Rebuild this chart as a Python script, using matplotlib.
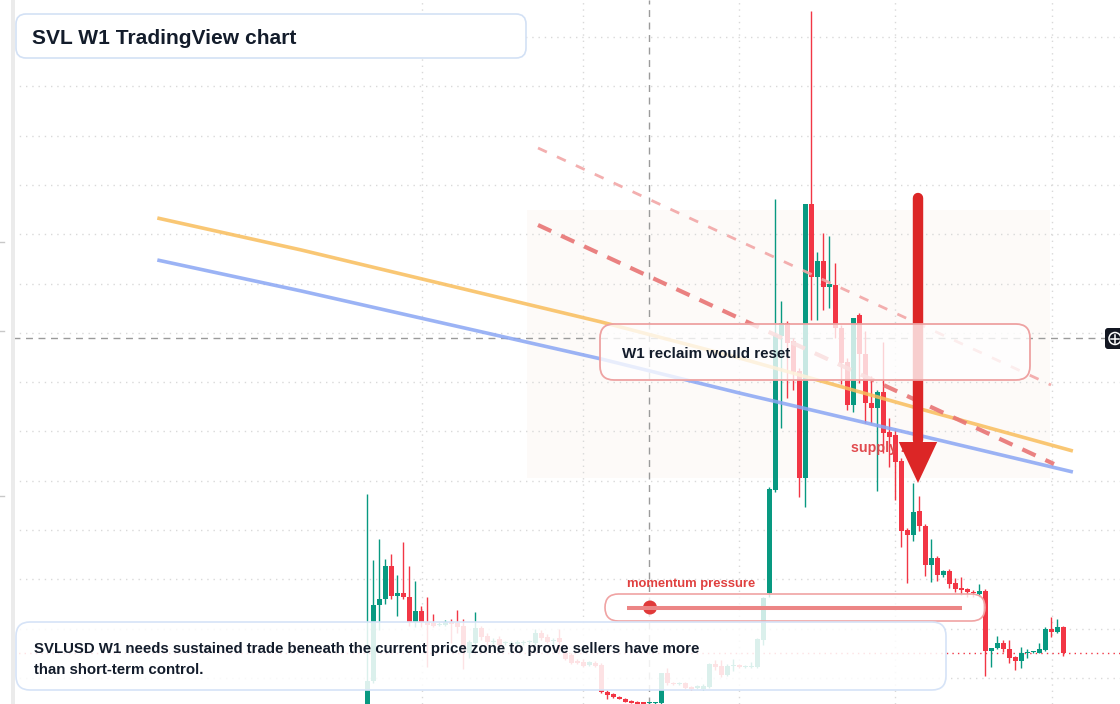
import matplotlib
matplotlib.use("Agg")
import numpy as np
from matplotlib import pyplot as plt
from matplotlib.patches import FancyBboxPatch, Rectangle, Circle, Polygon

plt.rcParams['font.family'] = ['Liberation Sans', 'DejaVu Sans']

# weekly candles, SVLUSD (price units)
opens = [0.270, 0.319, 0.395, 0.401, 0.434, 0.404, 0.407, 0.403, 0.378, 0.389,
         0.378, 0.377, 0.375, 0.375, 0.378, 0.377, 0.374, 0.347, 0.357, 0.372,
         0.364, 0.358, 0.361, 0.357, 0.356, 0.356, 0.357, 0.358, 0.357, 0.367,
         0.363, 0.359, 0.362, 0.347, 0.345, 0.339, 0.338, 0.335, 0.337, 0.335,
         0.308, 0.306, 0.303, 0.301, 0.299, 0.298, 0.298, 0.297, 0.297, 0.297,
         0.327, 0.317, 0.316, 0.317, 0.313, 0.312, 0.311, 0.313, 0.336, 0.334,
         0.325, 0.334, 0.335, 0.333, 0.333, 0.333, 0.360, 0.407, 0.510, 0.664,
         0.677, 0.659, 0.629, 0.522, 0.796, 0.723, 0.739, 0.713, 0.715, 0.672,
         0.638, 0.595, 0.685, 0.646, 0.597, 0.592, 0.608, 0.568, 0.565, 0.539,
         0.470, 0.465, 0.489, 0.474, 0.435, 0.442, 0.425, 0.429, 0.417, 0.412,
         0.411, 0.408, 0.406, 0.409, 0.349, 0.352, 0.357, 0.351, 0.343, 0.339,
         0.347, 0.348, 0.347, 0.350, 0.371, 0.368, 0.373]
highs = [0.506, 0.440, 0.461, 0.441, 0.446, 0.425, 0.458, 0.434, 0.419, 0.394,
         0.403, 0.386, 0.378, 0.380, 0.381, 0.390, 0.381, 0.360, 0.388, 0.374,
         0.367, 0.362, 0.364, 0.359, 0.359, 0.360, 0.360, 0.360, 0.371, 0.370,
         0.366, 0.362, 0.371, 0.349, 0.347, 0.341, 0.341, 0.339, 0.339, 0.337,
         0.310, 0.307, 0.304, 0.302, 0.300, 0.299, 0.298, 0.298, 0.298, 0.327,
         0.332, 0.318, 0.318, 0.318, 0.314, 0.315, 0.316, 0.337, 0.340, 0.340,
         0.336, 0.341, 0.336, 0.335, 0.338, 0.362, 0.403, 0.513, 0.801, 0.699,
         0.679, 0.662, 0.632, 0.796, 0.989, 0.748, 0.767, 0.764, 0.737, 0.675,
         0.642, 0.682, 0.687, 0.669, 0.624, 0.610, 0.658, 0.582, 0.570, 0.542,
         0.472, 0.517, 0.504, 0.476, 0.461, 0.444, 0.430, 0.431, 0.422, 0.423,
         0.412, 0.410, 0.416, 0.411, 0.352, 0.364, 0.360, 0.360, 0.344, 0.353,
         0.351, 0.349, 0.357, 0.373, 0.383, 0.381, 0.374]
lows = [0.260, 0.317, 0.370, 0.396, 0.401, 0.384, 0.401, 0.374, 0.373, 0.373,
        0.333, 0.373, 0.374, 0.374, 0.357, 0.367, 0.331, 0.342, 0.355, 0.360,
        0.355, 0.356, 0.353, 0.355, 0.354, 0.355, 0.355, 0.356, 0.355, 0.360,
        0.357, 0.355, 0.348, 0.340, 0.336, 0.336, 0.333, 0.334, 0.333, 0.307,
        0.301, 0.302, 0.301, 0.298, 0.297, 0.296, 0.296, 0.296, 0.296, 0.296,
        0.315, 0.315, 0.315, 0.311, 0.310, 0.311, 0.310, 0.312, 0.330, 0.323,
        0.324, 0.329, 0.332, 0.332, 0.332, 0.332, 0.355, 0.403, 0.508, 0.572,
        0.602, 0.610, 0.503, 0.493, 0.680, 0.680, 0.690, 0.692, 0.662, 0.616,
        0.590, 0.588, 0.617, 0.577, 0.577, 0.509, 0.547, 0.533, 0.500, 0.453,
        0.417, 0.459, 0.469, 0.424, 0.418, 0.419, 0.423, 0.412, 0.408, 0.405,
        0.403, 0.403, 0.403, 0.324, 0.333, 0.351, 0.348, 0.337, 0.330, 0.332,
        0.342, 0.347, 0.347, 0.349, 0.363, 0.367, 0.344]
closes = [0.319, 0.395, 0.401, 0.434, 0.404, 0.407, 0.403, 0.378, 0.389, 0.378,
          0.375, 0.374, 0.376, 0.378, 0.376, 0.373, 0.354, 0.358, 0.372, 0.363,
          0.358, 0.359, 0.355, 0.357, 0.357, 0.358, 0.358, 0.359, 0.367, 0.362,
          0.358, 0.360, 0.358, 0.341, 0.337, 0.337, 0.334, 0.338, 0.334, 0.308,
          0.305, 0.303, 0.301, 0.298, 0.297, 0.2965, 0.296, 0.298, 0.298, 0.327,
          0.317, 0.316, 0.317, 0.312, 0.311, 0.314, 0.314, 0.336, 0.333, 0.325,
          0.334, 0.335, 0.333, 0.334, 0.334, 0.361, 0.402, 0.511, 0.665, 0.677,
          0.657, 0.628, 0.522, 0.796, 0.723, 0.739, 0.713, 0.716, 0.672, 0.637,
          0.595, 0.682, 0.646, 0.597, 0.592, 0.608, 0.567, 0.563, 0.538, 0.469,
          0.465, 0.488, 0.474, 0.435, 0.442, 0.425, 0.429, 0.416, 0.411, 0.4105,
          0.408, 0.407, 0.409, 0.349, 0.352, 0.357, 0.351, 0.342, 0.339, 0.347,
          0.348, 0.348, 0.351, 0.371, 0.368, 0.373, 0.347]

# moving-average style curves (bar index, price)
ma_slow_x = [-35, -11, 14, 39, 62, 91, 117.6]
ma_slow_y = [0.782, 0.750, 0.714, 0.678, 0.642, 0.593, 0.549]
ma_fast_x = [-35, -11, 14, 39, 62, 91, 117.6]
ma_fast_y = [0.740, 0.709, 0.675, 0.641, 0.607, 0.566, 0.528]

# descending trendlines
trend_main_x = [28.45, 114.45]
trend_main_y = [0.775, 0.536]
trend_outer_x = [28.45, 113.95]
trend_outer_y = [0.852, 0.615]

# supply zone (bar index range, price range)
zone_x = [26.55, 113.8]
zone_y = [0.522, 0.790]

GREEN = '#089981'
RED = '#f23645'

fig = plt.figure(figsize=(11.2, 7.04), dpi=100)
ax = fig.add_axes([0, 0, 1, 1])
ax.set_xlim(-61.22, 125.45)
ax.set_ylim(0.296, 1.0)
ax.axis('off')

# grid
for lvl in np.arange(0.963, 0.3, -0.0493):
    ax.plot([-59, 125.45], [lvl, lvl], color='#d9d9d9', lw=1, ls=(0, (1, 3.5)), zorder=1)
for gx in [9.07, 36.0, 62.0, 88.0, 114.07]:
    ax.axvline(gx, color='#d9d9d9', lw=1, ls=(0, (1, 3.5)), zorder=1)

# zone
ax.add_patch(Rectangle((zone_x[0], zone_y[0]), zone_x[1] - zone_x[0], zone_y[1] - zone_y[0],
                       facecolor='#fcf1ec', edgecolor='none', alpha=0.35, zorder=0.5))

# candles
idx = np.arange(len(opens))
o = np.array(opens); h = np.array(highs); l = np.array(lows); c = np.array(closes)
cols = np.where(c >= o, GREEN, RED)
ax.vlines(idx, l, h, colors=cols, lw=1.0, zorder=3)
body = np.maximum(np.abs(c - o), 0.0013)
ax.bar(idx, body, bottom=np.minimum(o, c), width=0.78, color=cols, zorder=3.1)

# crosshair + last price
ax.axvline(47.03, color='#9b9b9b', lw=1, ls=(0, (5, 4)), zorder=2)
ax.plot([-59, 123.0], [0.662, 0.662], color='#9b9b9b', lw=1, ls=(0, (5, 4)), zorder=2)
ax.plot([-59, 125.45], [closes[-1], closes[-1]], color=RED, lw=1, ls=(0, (1, 3)), zorder=2)

# moving averages and trendlines
ax.plot(ma_slow_x, ma_slow_y, color='#f9bd5c', lw=2.6, alpha=0.85, zorder=4, solid_capstyle='butt')
ax.plot(ma_fast_x, ma_fast_y, color='#8aa6f4', lw=2.6, alpha=0.85, zorder=4, solid_capstyle='butt')
ax.plot(trend_outer_x, trend_outer_y, color='#f2a6a6', lw=2.0, ls=(0, (3.5, 4)), alpha=0.9, zorder=4)
ax.plot(trend_main_x, trend_main_y, color='#e87474', lw=3.0, ls=(0, (3.5, 2.6)), alpha=0.9, zorder=4)

ax.text(80.6, 0.552, 'supply zone', color='#e14a4e', fontsize=10.3, fontweight='bold',
        va='center', ha='left', zorder=5)

# arrow
ax.plot([91.78, 91.78], [0.802, 0.56], color='#dc2626', lw=7.5, solid_capstyle='round', zorder=6)
ax.add_patch(Polygon([(91.78 - 3.2, 0.558), (91.78 + 3.2, 0.558), (91.78, 0.517)],
                     closed=True, facecolor='#dc2626', edgecolor='none', zorder=6))

# overlay in pixel space for the annotations
ov = fig.add_axes([0, 0, 1, 1])
ov.set_xlim(0, 1120)
ov.set_ylim(704, 0)
ov.axis('off')
ov.patch.set_alpha(0)

ov.add_patch(Rectangle((10.6, 0), 4.2, 704, facecolor='#ebebeb', edgecolor='none'))
for ty in [242, 331, 496]:
    ov.plot([0, 4], [ty, ty], color='#c8c8c8', lw=1)

# title
ov.add_patch(FancyBboxPatch((16, 14), 510, 44, boxstyle='round,pad=0,rounding_size=10',
                            facecolor='white', edgecolor='#d3e1f5', lw=1.2))
ov.text(32, 38, 'SVL W1 TradingView chart', fontsize=15.1, fontweight='bold',
        color='#131c2b', va='center', ha='left')

# reclaim box
ov.add_patch(FancyBboxPatch((600, 324), 430, 56, boxstyle='round,pad=0,rounding_size=14',
                            facecolor=(1, 1, 1, 0.78), edgecolor='#eea2a2', lw=1.3))
ov.text(622, 354.5, 'W1 reclaim would reset', fontsize=10.9, fontweight='bold',
        color='#131c2b', va='center', ha='left')

# momentum pill
ov.text(627, 584, 'momentum pressure', fontsize=9.4, fontweight='bold',
        color='#e0403f', va='center', ha='left')
ov.add_patch(FancyBboxPatch((605, 594), 380, 27, boxstyle='round,pad=0,rounding_size=13.5',
                            facecolor=(1, 1, 1, 0.8), edgecolor='#f0a3a3', lw=1.2))
ov.plot([627, 962], [607.5, 607.5], color='#ec8585', lw=2.9, solid_capstyle='butt')
ov.add_patch(Circle((650, 607.5), 7, facecolor='#e03a3a', edgecolor='none'))

# bottom note
ov.add_patch(FancyBboxPatch((16, 622), 930, 68, boxstyle='round,pad=0,rounding_size=14',
                            facecolor=(1, 1, 1, 0.86), edgecolor='#d6e3f7', lw=1.2))
ov.text(34, 649, 'SVLUSD W1 needs sustained trade beneath the current price zone to prove sellers have more',
        fontsize=10.85, fontweight='bold', color='#131c2b', va='center', ha='left')
ov.text(34, 669.5, 'than short-term control.', fontsize=10.85, fontweight='bold',
        color='#131c2b', va='center', ha='left')

# crosshair badge
ov.add_patch(FancyBboxPatch((1105, 328), 22, 21, boxstyle='round,pad=0,rounding_size=3',
                            facecolor='#131722', edgecolor='none'))
ov.add_patch(Circle((1115, 338.5), 6, facecolor='none', edgecolor='white', lw=1.1))
ov.plot([1111, 1119], [338.5, 338.5], color='white', lw=1.1)
ov.plot([1115, 1115], [334.5, 342.5], color='white', lw=1.1)

fig.savefig('out.png', dpi=100)
